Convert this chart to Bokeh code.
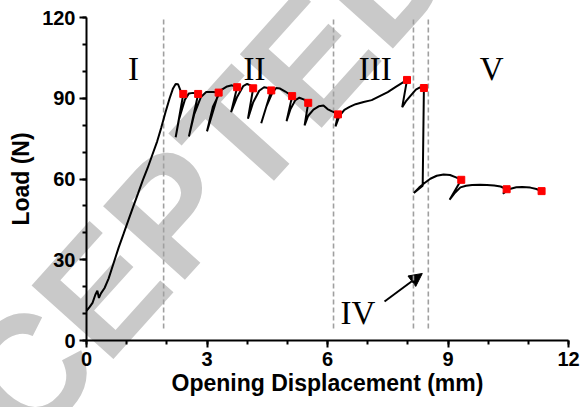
import math
from bokeh.plotting import figure
from bokeh.models import Range1d, SingleIntervalTicker, Label, Arrow, NormalHead
from bokeh.core.properties import value
from bokeh.embed import file_html
from bokeh.resources import INLINE

# ---- data ----
disp = [0.00, 0.08, 0.15, 0.22, 0.27, 0.31, 0.36, 0.45, 0.55, 0.67, 0.80, 0.92,
        1.05, 1.17, 1.28, 1.40, 1.52, 1.64, 1.76, 1.86, 1.97, 2.07, 2.15, 2.22,
        2.28, 2.35, 2.41,
        2.22, 2.30, 2.45, 2.55, 2.65, 2.78,
        2.55, 2.68, 2.85, 2.98, 3.15, 3.29,
        3.00, 3.15, 3.35, 3.50, 3.62, 3.75,
        3.60, 3.75, 3.90, 4.00, 4.08, 4.15,
        4.02, 4.15, 4.30, 4.42, 4.52, 4.60,
        4.35, 4.48, 4.62, 4.72, 4.82, 4.95, 5.05, 5.12,
        4.98, 5.08, 5.20, 5.30, 5.42, 5.52,
        5.43, 5.52, 5.65, 5.78, 5.90, 6.00, 6.10, 6.20, 6.26,
        6.20, 6.30, 6.42, 6.55, 6.70, 6.90, 7.10, 7.30, 7.50, 7.70, 7.85, 7.98,
        7.86, 7.95, 8.07, 8.20, 8.30, 8.40,
        8.37, 8.15, 8.28, 8.40, 8.56, 8.72, 8.89, 9.05, 9.20, 9.33,
        9.04, 9.18, 9.31, 9.45, 9.60, 9.80, 9.97, 10.15, 10.31, 10.46,
        10.37, 10.47, 10.56, 10.70, 10.85, 11.05, 11.20, 11.33]
load = [11.0, 12.5, 14.0, 17.0, 18.5, 15.8, 17.5, 19.5, 23.0, 28.5, 34.5, 39.5,
        45.0, 50.0, 54.5, 59.5, 64.0, 69.0, 74.0, 79.0, 85.0, 90.0, 93.5, 95.3,
        95.2, 92.5, 91.6,
        75.5, 82.0, 89.5, 91.8, 92.0, 91.6,
        75.8, 84.0, 90.5, 92.3, 92.3, 92.1,
        77.7, 87.0, 93.0, 94.4, 94.8, 94.1,
        84.8, 90.5, 94.5, 95.3, 94.8, 93.7,
        82.4, 88.5, 92.8, 94.1, 93.8, 92.9,
        80.7, 87.0, 91.8, 93.8, 93.6, 92.5, 91.5, 90.8,
        81.5, 86.0, 89.3, 90.2, 89.5, 88.3,
        79.9, 83.5, 85.8, 87.0, 87.3, 86.0, 85.2, 84.6, 84.0,
        79.5, 83.5, 85.7, 86.8, 87.8, 88.6, 89.3, 90.8, 92.3, 94.2, 95.6, 96.8,
        86.7, 88.8, 91.0, 93.2, 94.0, 93.8,
        57.5, 54.8, 56.8, 58.3, 60.1, 61.2, 61.7, 61.5, 60.6, 59.7,
        52.3, 55.0, 56.9, 57.5, 57.8, 57.9, 57.8, 57.6, 57.2, 56.2,
        54.5, 55.8, 56.4, 56.9, 57.0, 56.8, 56.3, 55.5]

peak_disp = [2.41, 2.78, 3.29, 3.75, 4.15, 4.60, 5.12, 5.52, 6.26, 7.98, 8.40,
             9.33, 10.46, 11.33]
peak_load = [91.6, 91.6, 92.1, 94.1, 93.7, 92.9, 90.8, 88.3, 84.0, 96.8, 93.8,
             59.7, 56.2, 55.5]

stage_bounds = [1.92, 6.15, 8.14, 8.51]
stage_labels = ["I", "II", "III", "V"]
stage_label_x = [1.17, 4.18, 7.19, 10.09]
stage_label_y = [100.7, 100.7, 100.7, 100.7]
stage_iv_label = "IV"

x_label = "Opening Displacement (mm)"
y_label = "Load (N)"
watermark = "ACCEPTED"

# ---- figure ----
p = figure(width=582, height=407, output_backend="svg", toolbar_location=None,
           x_range=Range1d(0, 12), y_range=Range1d(0, 120),
           min_border_left=86, min_border_right=14, min_border_top=17,
           min_border_bottom=67)
p.grid.visible = False
p.outline_line_color = None
p.background_fill_color = "white"
p.border_fill_color = "white"

# watermark behind the data (glyph at guide level: not clipped to the frame)
p.text(x=[1.02], y=[29.7], text=[watermark], angle=48, angle_units="deg",
       text_font=value("Liberation Sans"), text_font_style="bold",
       text_font_size="160px", text_color="#c9c9c9",
       text_align="center", text_baseline="middle", level="guide")

for ax, interval in ((p.xaxis, 3), (p.yaxis, 30)):
    ax.ticker = SingleIntervalTicker(interval=interval, num_minor_ticks=3)
    ax.axis_line_width = 2
    ax.major_tick_line_width = 2
    ax.minor_tick_line_width = 2
    ax.major_tick_in = 0
    ax.major_tick_out = 7
    ax.minor_tick_in = 0
    ax.minor_tick_out = 4
    ax.major_label_text_font = "Liberation Sans"
    ax.major_label_text_font_style = "bold"
    ax.major_label_text_font_size = "20px"
    ax.major_label_text_color = "black"
    ax.axis_label_text_font = "Liberation Sans"
    ax.axis_label_text_font_style = "bold"
    ax.axis_label_text_font_size = "23px"
    ax.axis_label_text_color = "black"
    ax.level = "annotation"

p.xaxis.axis_label = x_label
p.yaxis.axis_label = y_label
p.xaxis.major_label_standoff = 4
p.xaxis.axis_label_standoff = 1
p.yaxis.major_label_standoff = 4
p.yaxis.axis_label_standoff = 5

# stage boundaries
p.segment(x0=stage_bounds, y0=[4.5] * len(stage_bounds), x1=stage_bounds,
          y1=[119.5] * len(stage_bounds), line_color="#a0a0a0", line_width=1.6,
          line_dash="5 3", level="overlay")

# load curve
p.line(disp, load, line_color="black", line_width=2, level="overlay")
p.scatter(peak_disp, peak_load, marker="square", size=7, fill_color="#ff0000",
          line_color="#ff0000", level="overlay")

# stage labels
p.text(x=stage_label_x, y=stage_label_y, text=stage_labels,
       text_font=value("Liberation Serif"), text_font_size="33px",
       text_align="center", text_baseline="alphabetic", text_color="black",
       level="overlay")
p.add_layout(Label(x=6.76, y=10.1, text=stage_iv_label, text_font="Liberation Serif",
                   text_font_size="33px", text_align="center",
                   text_baseline="alphabetic", text_color="black"))
p.add_layout(Arrow(x_start=7.42, y_start=14.5, x_end=8.36, y_end=24.9,
                   line_width=2, line_color="black",
                   end=NormalHead(size=13, fill_color="black", line_color="black")))

open("out.html", "w").write(file_html(p, INLINE))
